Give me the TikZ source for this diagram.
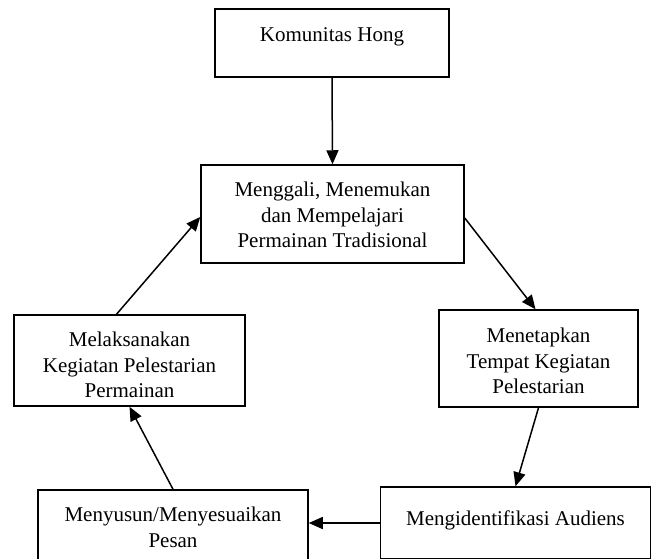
\documentclass[tikz,border=0pt]{standalone}
\usepackage{fontspec}
\setmainfont{Liberation Serif}
\usetikzlibrary{arrows.meta}
\begin{document}
\begin{tikzpicture}[x=1pt,y=-1pt,
    box/.style={draw,line width=1.5pt,inner sep=0pt},
    txt/.style={anchor=north,inner sep=0pt,align=center,
        font=\fontsize{21pt}{25.5pt}\selectfont},
    arr/.style={line width=1.5pt,-{Triangle[length=14pt,width=12pt]}}]
    \useasboundingbox (0,0) rectangle (656,558);
                                \node[box,minimum width=234pt,minimum height=68pt] (kom) at (332,43){};
                                \node[txt] (kom-t) at (332,27){Komunitas Hong};
                                \node[box,minimum width=263pt,minimum height=98pt] (men) at (332.5,214){};
                                \node[txt] (men-t) at (332.5,182){Menggali, Menemukan\\dan Mempelajari\\Permainan Tradisional};
                                \node[box,minimum width=199pt,minimum height=97pt] (mtp) at (538.5,358.5){};
                                \node[txt] (mtp-t) at (538.5,328){Menetapkan\\Tempat Kegiatan\\Pelestarian};
                                \node[box,minimum width=231pt,minimum height=91pt] (mel) at (129.5,360.5){};
                                \node[txt] (mel-t) at (129.5,332){Melaksanakan\\Kegiatan Pelestarian\\Permainan};
                                \node[box,minimum width=270pt,minimum height=72pt] (ide) at (515.5,523){};
                                \node[txt] (ide-t) at (515.5,511){Mengidentifikasi Audiens};
                                \node[box,minimum width=270pt,minimum height=70pt] (sus) at (173,525){};
                                \node[txt] (sus-t) at (173,507){Menyusun/Menyesuaikan\\Pesan};
    % alur
    \draw[arr] (kom.south) -- (men.north);
    \draw[arr] ([yshift=-4pt]men.east) -- ([xshift=-3pt]mtp.north);
    \draw[arr] (mtp.south) -- (ide.north);
    \draw[arr] (ide.west) -- (ide.west -| sus.east);
    \draw[arr] (sus.north) -- (mel.south);
    \draw[arr] ([xshift=-13pt]mel.north) -- ([yshift=-3pt]men.west);
					\end{tikzpicture}
\end{document}
